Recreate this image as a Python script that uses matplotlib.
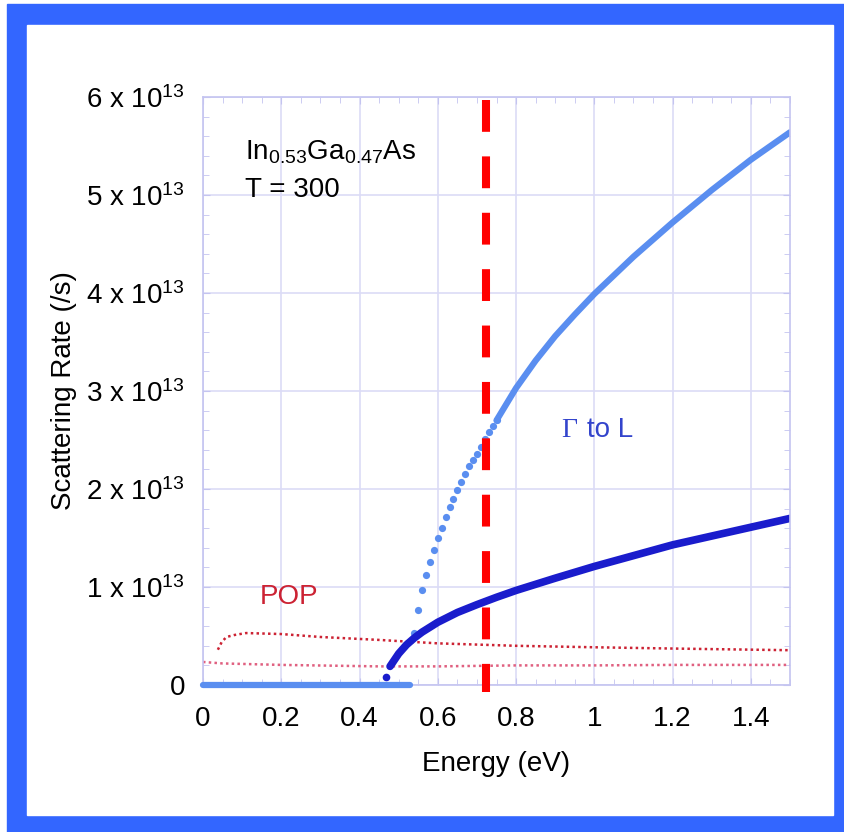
import matplotlib
matplotlib.use("Agg")
import matplotlib.pyplot as plt
from matplotlib.patches import Rectangle

plt.rcParams["font.family"] = ["Liberation Sans", "DejaVu Sans"]
plt.rcParams["mathtext.default"] = "regular"

# ----------------------------------------
# data (rates in units of 1e13 /s, energy in eV)
# ----------------------------------------
# Gamma to L, light blue: flat part, sparse dots, dense part
gl_zero_energy = [0.0, 0.53]
gl_zero_rate = [0.0, 0.0]

gl_dot_energy = [0.54, 0.55, 0.56, 0.57, 0.58, 0.59, 0.60, 0.61, 0.62, 0.63,
                 0.64, 0.65, 0.66, 0.67, 0.68, 0.69, 0.70, 0.71, 0.72, 0.73,
                 0.74, 0.75]
gl_dot_rate = [0.53, 0.77, 0.97, 1.12, 1.26, 1.38, 1.50, 1.60, 1.71, 1.82,
               1.90, 1.99, 2.07, 2.15, 2.23, 2.30, 2.36, 2.43, 2.51, 2.58,
               2.64, 2.70]

gl_dense_energy = [0.75, 0.80, 0.85, 0.90, 0.95, 1.00, 1.10, 1.20, 1.30, 1.40, 1.50]
gl_dense_rate = [2.70, 3.03, 3.31, 3.56, 3.78, 3.99, 4.37, 4.72, 5.05, 5.36, 5.64]

# second (dark blue) channel
db_first_energy = [0.468]
db_first_rate = [0.085]
db_energy = [0.478, 0.50, 0.52, 0.54, 0.56, 0.58, 0.60, 0.65, 0.70, 0.75,
             0.80, 0.90, 1.00, 1.10, 1.20, 1.30, 1.40, 1.50]
db_rate = [0.19, 0.32, 0.41, 0.48, 0.54, 0.59, 0.64, 0.74, 0.82, 0.895,
           0.965, 1.09, 1.21, 1.32, 1.43, 1.52, 1.61, 1.70]

# POP, two branches
pop_up_energy = [0.038, 0.048, 0.06, 0.08, 0.11, 0.20, 0.30, 0.45, 0.60,
                 0.80, 1.00, 1.20, 1.50]
pop_up_rate = [0.36, 0.44, 0.49, 0.51, 0.53, 0.52, 0.49, 0.46, 0.425,
               0.40, 0.385, 0.372, 0.355]

pop_low_energy = [0.0, 0.05, 0.20, 0.45, 0.60, 0.80, 1.00, 1.20, 1.50]
pop_low_rate = [0.235, 0.22, 0.205, 0.19, 0.19, 0.20, 0.20, 0.205, 0.205]

cutoff_energy = 0.723

x_ticks = [0, 0.2, 0.4, 0.6, 0.8, 1.0, 1.2, 1.4]
x_tick_labels = ["0", "0.2", "0.4", "0.6", "0.8", "1", "1.2", "1.4"]
y_ticks = [0, 1, 2, 3, 4, 5, 6]
y_tick_labels = ["0"] + ["%d x 10$^{13}$" % v for v in y_ticks[1:]]

LIGHT_BLUE = "#5a8ef0"
DARK_BLUE = "#1a1ccc"
GRID = "#dcdcf6"
SPINE = "#c4c4f0"

fig = plt.figure(figsize=(8.44, 8.32), dpi=100)

# blue frame around the picture
fig.patches.append(Rectangle((7 / 844, 0), 837 / 844, 828 / 832,
                             transform=fig.transFigure, color="#3366ff", zorder=-3))
fig.patches.append(Rectangle((27 / 844, 17 / 832), 806 / 844, 790 / 832,
                             transform=fig.transFigure, color="white", zorder=-2))

ax = fig.add_axes([203 / 844, 1 - 685 / 832, 587 / 844, 588 / 832])
ax.set_facecolor("none")

ax.set_xlim(0, 1.5)
ax.set_ylim(0, 6)

ax.set_xticks(x_ticks)
ax.set_xticklabels(x_tick_labels)
ax.set_yticks(y_ticks)
ax.set_yticklabels(y_tick_labels)
ax.set_xticks([i * 0.05 for i in range(31)], minor=True)
ax.set_yticks([i * 0.2 for i in range(31)], minor=True)

ax.tick_params(which="both", direction="in", top=True, right=True,
               color=SPINE, labelsize=20)
ax.tick_params(axis="x", which="major", length=5, pad=15)
ax.tick_params(axis="y", which="major", length=5, pad=13)
ax.tick_params(which="minor", length=4)

ax.grid(True, which="major", color=GRID, linewidth=1.2)
ax.set_axisbelow(True)
for spine in ax.spines.values():
    spine.set_color(SPINE)
    spine.set_linewidth(1.2)

# ----------------------------------------
# curves
# ----------------------------------------
ax.plot(pop_low_energy, pop_low_rate, color="#e06080",
        linestyle=(0, (1, 1.3)), linewidth=1.8)
ax.plot(pop_up_energy, pop_up_rate, color="#cc2233",
        linestyle=(0, (1, 1.3)), linewidth=1.8)

ax.plot(gl_zero_energy, gl_zero_rate, color=LIGHT_BLUE, linewidth=4.5,
        solid_capstyle="round", clip_on=False, zorder=4)
ax.plot(gl_dot_energy, gl_dot_rate, "o", color=LIGHT_BLUE, markersize=5.2,
        markeredgewidth=0)
ax.plot(gl_dense_energy, gl_dense_rate, color=LIGHT_BLUE, linewidth=4.5,
        solid_capstyle="round", solid_joinstyle="round")

ax.plot(db_first_energy, db_first_rate, "o", color=DARK_BLUE, markersize=5.5,
        markeredgewidth=0)
ax.plot(db_energy, db_rate, color=DARK_BLUE, linewidth=5.5,
        solid_capstyle="round", solid_joinstyle="round")

ax.plot([cutoff_energy, cutoff_energy], [5.97, -0.07], color="#ff0000",
        linewidth=5.8, linestyle=(0, (3.95, 3.05)), clip_on=False, zorder=5)

# ----------------------------------------
# annotations
# ----------------------------------------
ax.text(0.108, 5.36, "In$_{0.53}$Ga$_{0.47}$As", fontsize=20,
        ha="left", va="baseline")
ax.text(0.108, 4.98, "T = 300", fontsize=20, ha="left", va="baseline")
ax.text(0.145, 0.83, "POP", fontsize=20, color="#cc2233", ha="left",
        va="baseline")
ax.text(0.915, 2.53, "\u0393", fontsize=20, color="#3344cc", ha="left",
        va="baseline", family=["Liberation Serif", "DejaVu Serif"])
ax.text(0.98, 2.53, "to L", fontsize=20, color="#3344cc", ha="left",
        va="baseline")

ax.set_xlabel("Energy (eV)", fontsize=20, labelpad=14)
ax.set_ylabel("Scattering Rate (/s)", fontsize=20)
ax.yaxis.set_label_coords(-0.215, 0.5)

fig.savefig("out.png", dpi=100)
